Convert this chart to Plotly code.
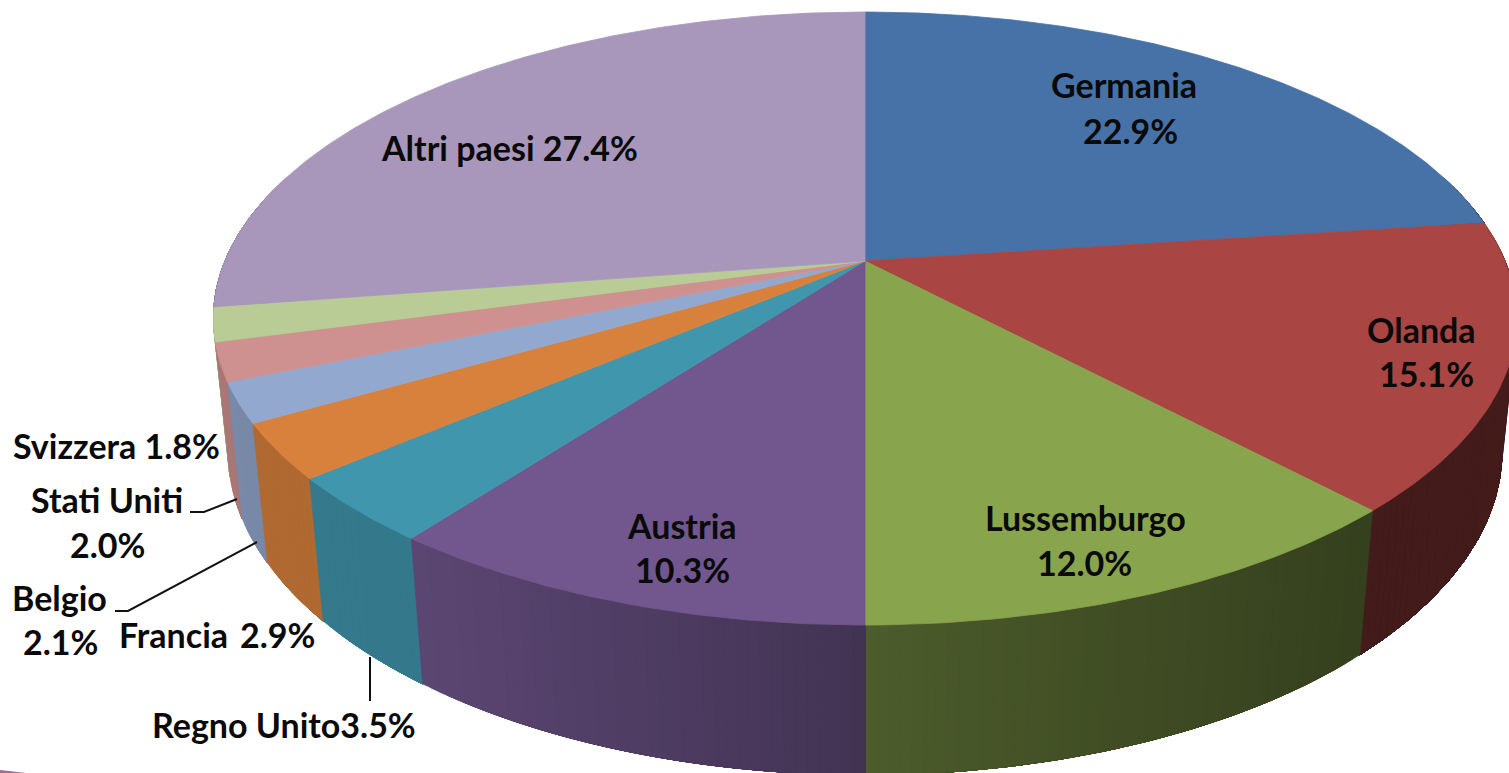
import numpy as np
import plotly.graph_objects as go

# ---- data ----
categories = ["Germania", "Olanda", "Lussemburgo", "Austria", "Regno Unito",
              "Francia", "Belgio", "Stati Uniti", "Svizzera", "Altri paesi"]
shares = [22.9, 15.1, 12.0, 10.3, 3.5, 2.9, 2.1, 2.0, 1.8, 27.4]

# ---- style ----
top_colors = ["#4672A7", "#A94543", "#88A44D", "#71578E", "#4096AD",
              "#D8813C", "#93A8CE", "#CF9190", "#B9CC95", "#A897BB"]
SHADE_X = [0, 427, 865, 865.01, 1362, 1509]
SHADE_F = [0.84, 0.80, 0.585, 0.56, 0.39, 0.40]

# ---- perspective of the pie disc ----
CX, CY = 865.0, 261.0
B, A, K = 640.0, 295.7, 0.1876
DEPTH, M = 133.0, 0.022
W, H = 1509, 773


def project(theta, z=0.0):
    u, v = np.sin(theta), np.cos(theta)
    w = 1 + K * v + M * z
    return CX + B * u / w, CY + (-A * v + DEPTH * z) / w


def hex_rgb(c):
    return tuple(int(c[i:i + 2], 16) for i in (1, 3, 5))


def shade(c, x):
    f = float(np.interp(x, SHADE_X, SHADE_F))
    r, g, b = hex_rgb(c)
    return f"rgb({r * f:.0f},{g * f:.0f},{b * f:.0f})"


fig = go.Figure()


def poly(x, y, color, lw=0.8):
    fig.add_trace(go.Scatter(
        x=list(x), y=list(y), mode="lines", fill="toself", fillcolor=color,
        line=dict(color=color, width=lw), hoverinfo="skip", showlegend=False))


def wall(a0, a1, col):
    """Wall between two angles, filled with one colour."""
    ts = np.linspace(a0, a1, max(3, int((a1 - a0) / 0.01)))
    xt, yt = project(ts, 0)
    xb, yb = project(ts[::-1], 1)
    poly(np.r_[xt, xb, xt[0]], np.r_[yt, yb, yt[0]], col, 0.6)


cum = np.concatenate([[0], np.cumsum(shares)]) / sum(shares) * 2 * np.pi
bands = list(zip(cum[:-1], cum[1:], top_colors, categories))
STEP = 0.015

# right half of the wall: painted with growing angle, each strip reaches to the band's end
for t0, t1, col, name in bands:
    a0, a1 = max(t0, np.pi / 2 - 0.3), min(t1, np.pi)
    if a1 <= a0:
        continue
    n = max(1, int((a1 - a0) / STEP))
    ts = np.linspace(a0, a1, n + 1)
    for i in range(n):
        xm, _ = project(0.5 * (ts[i] + ts[i + 1]), 0)
        wall(ts[i], a1, shade(col, float(xm)))

# left half: painted from the back to the front, each strip reaches to the band's start
for t0, t1, col, name in reversed(bands):
    a0, a1 = max(t0, np.pi), min(t1, 3 * np.pi / 2 + 0.3)
    if a1 <= a0:
        continue
    n = max(1, int((a1 - a0) / STEP))
    ts = np.linspace(a0, a1, n + 1)
    for i in range(n, 0, -1):
        xm, _ = project(0.5 * (ts[i] + ts[i - 1]), 0)
        wall(a0, ts[i], shade(col, float(xm)))

# top faces
for t0, t1, col, name in bands:
    ts = np.linspace(t0, t1, max(8, int((t1 - t0) / 0.01)))
    x, y = project(ts, 0)
    poly(np.r_[CX, x, CX], np.r_[CY, y, CY], col)

# corner remnant of the slide background
poly([0, 0, 26, 0], [770, 773, 773, 770], "#a06a98", 0)

# leader lines
LEADERS = [
    ([190, 204, 237], [512, 512, 499]),
    ([115, 128, 257], [611, 611, 542]),
    ([370, 370], [657, 701]),
]
for lx, ly in LEADERS:
    fig.add_trace(go.Scatter(x=lx, y=ly, mode="lines", hoverinfo="skip",
                             line=dict(color="#111111", width=2), showlegend=False))

pct = {c: f"{s:.1f}%" for c, s in zip(categories, shares)}
LABELS = [
    ("Germania", 1124, 84), (pct["Germania"], 1130, 130),
    ("Olanda", 1421, 329), (pct["Olanda"], 1426, 373),
    ("Lussemburgo", 1085, 517), (pct["Lussemburgo"], 1084, 562),
    ("Austria", 682, 525), (pct["Austria"], 682, 569),
    (f"Altri paesi {pct['Altri paesi']}", 509, 147),
    (f"Svizzera {pct['Svizzera']}", 116, 445),
    ("Stati Uniti", 107, 499), (pct["Stati Uniti"], 107, 544),
    ("Belgio", 59, 597), (pct["Belgio"], 60, 641),
    ("Francia", 173, 634), (pct["Francia"], 277, 634),
    (f"Regno Unito{pct['Regno Unito']}", 284, 724),
]
for text, x, y in LABELS:
    fig.add_annotation(x=x, y=y, text=f"<b>{text}</b>", showarrow=False,
                       xanchor="center", yanchor="middle",
                       font=dict(family="Lato, Carlito, sans-serif", size=34, color="#0a0a0a"))

fig.update_layout(
    width=W, height=H, margin=dict(l=0, r=0, t=0, b=0),
    paper_bgcolor="#ffffff", plot_bgcolor="#ffffff", showlegend=False,
    xaxis=dict(range=[0, W], visible=False, fixedrange=True),
    yaxis=dict(range=[H, 0], visible=False, fixedrange=True),
)
PAGE_CSS = ("var s=document.createElement('style');"
            "s.textContent='html,body{margin:0;padding:0;overflow:hidden}"
            "text{font-variant-ligatures:none}';"
            "document.head.appendChild(s);")
fig.write_html("out.html", config=dict(displayModeBar=False), post_script=PAGE_CSS)
